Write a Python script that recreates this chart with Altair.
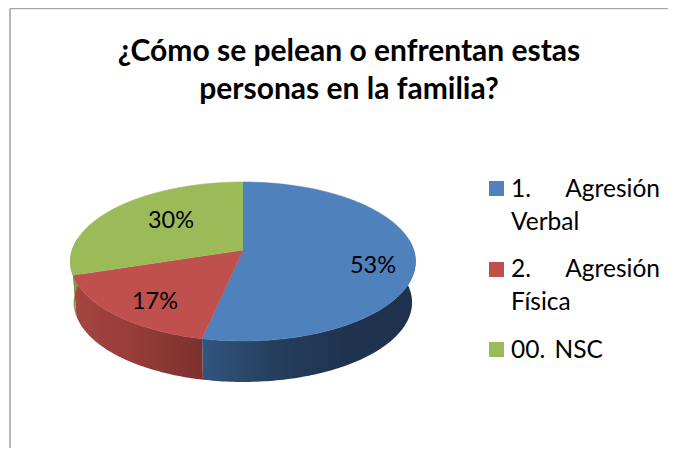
import math
import altair as alt
import pandas as pd

categories = ["1. Agresión Verbal", "2. Agresión Física", "00. NSC"]
shares = [53.3, 16.7, 30]
share_labels = ["53%", "17%", "30%"]
top_colors = ["#4F81BD", "#C0504D", "#9BBB59"]
wall_gradients = [
    ["#32557F", "#253F5D", "#1F334F", "#1F334F"],
    ["#A54542", "#953C39", "#7C302E"],
    ["#7F9A46", "#7F9A46"],
]
title_lines = ["¿Cómo se pelean o enfrentan estas", "personas en la familia?"]

CX, CY, A, B, K = 243, 250, 170.7, 77.8, -0.1446
DEPTH, SHRINK = 41, 0.98
SIL = math.degrees(math.acos(K))  # silhouette angle, clockwise from the top


def top(deg):
    t = math.radians(deg)
    u, v = math.sin(t), -math.cos(t)
    d = 1 + K * v
    return CX + A * u / d, CY + B * v / d


def bottom(deg):
    x, y = top(deg)
    return CX + (x - CX) * SHRINK, y + DEPTH


def frame(points):
    return pd.DataFrame(
        [{"i": i, "x": p[0], "y": p[1]} for i, p in enumerate(points)]
    )


def sweep(a, b):
    n = max(2, int(abs(b - a)) + 1)
    return [a + (b - a) * i / n for i in range(n + 1)]


X = alt.X("x:Q", axis=None, scale=alt.Scale(domain=[8, 668], range=[0, 660]))
Y = alt.Y("y:Q", axis=None, scale=alt.Scale(domain=[8, 448], range=[0, 440]))


def polygon(points, fill, stroke):
    return alt.Chart(frame(points)).mark_line(
        fill=fill, stroke=stroke, strokeWidth=0.6
    ).encode(x=X, y=Y, order=alt.Order("i:Q"))


edges = [0]
for s in shares:
    edges.append(edges[-1] + s * 3.6)

layers = []

# side walls (only the near half of the rim is visible)
for k in range(3):
    a = max(edges[k], 180 - SIL)
    b = min(edges[k + 1], 180 + SIL)
    if b <= a:
        continue
    angles = sweep(a, b)
    pts = [top(d) for d in angles] + [bottom(d) for d in reversed(angles)]
    stops = wall_gradients[k]
    grad = alt.LinearGradient(
        gradient="linear", x1=0, x2=1, y1=0, y2=0,
        stops=[
            alt.GradientStop(offset=i / (len(stops) - 1), color=c)
            for i, c in enumerate(stops)
        ],
    )
    layers.append(polygon(pts, grad, stops[-1] if k == 2 else "transparent"))

# top faces
for k in range(3):
    pts = [(CX, CY)] + [top(d) for d in sweep(edges[k], edges[k + 1])]
    layers.append(polygon(pts, top_colors[k], top_colors[k]))

# frame
frame_color = "#A6A6A6"
for xs, ys in (([10, 10], [8.5, 448]), ([10, 668], [8.5, 8.5])):
    layers.append(
        alt.Chart(pd.DataFrame({"x": xs, "y": ys}))
        .mark_line(color=frame_color, strokeWidth=1.6)
        .encode(x=X, y=Y)
    )


def text_layer(rows, size, bold=False, align="left"):
    return alt.Chart(pd.DataFrame(rows)).mark_text(
        font="Lato", fontSize=size, fontWeight="bold" if bold else "normal",
        align=align, baseline="alphabetic", color="#000000",
    ).encode(x=X, y=Y, text="t:N")


layers.append(text_layer(
    [{"t": title_lines[0], "x": 349, "y": 61}, {"t": title_lines[1], "x": 349, "y": 99}],
    30, bold=True, align="center",
))
layers.append(text_layer(
    [
        {"t": share_labels[0], "x": 373, "y": 273},
        {"t": share_labels[1], "x": 155, "y": 309},
        {"t": share_labels[2], "x": 171, "y": 228},
    ],
    23.5, align="center",
))

# legend
swatches = pd.DataFrame(
    {"cat": categories, "x": [496.5] * 3, "y": [188.5, 269.5, 349.5]}
)
layers.append(
    alt.Chart(swatches).mark_square(size=225, opacity=1).encode(
        x=X, y=Y,
        color=alt.Color("cat:N", legend=None,
                        scale=alt.Scale(domain=categories, range=top_colors)),
    )
)
layers.append(text_layer(
    [
        {"t": "1.", "x": 511, "y": 197},
        {"t": "Verbal", "x": 511, "y": 230},
        {"t": "2.", "x": 511, "y": 277},
        {"t": "Física", "x": 511, "y": 310},
        {"t": "00.\u00a0\u2009NSC", "x": 511, "y": 358},
    ],
    24.5,
))
layers.append(text_layer(
    [{"t": "Agresión", "x": 660, "y": 197}, {"t": "Agresión", "x": 660, "y": 277}],
    24.5, align="right",
))

chart = alt.layer(*layers).properties(
    width=660, height=440, padding=0,
    autosize=alt.AutoSizeParams(type="none"), background="white",
).configure_view(stroke=None)

chart.save("out.html", embed_options={"renderer": "svg", "actions": False})
